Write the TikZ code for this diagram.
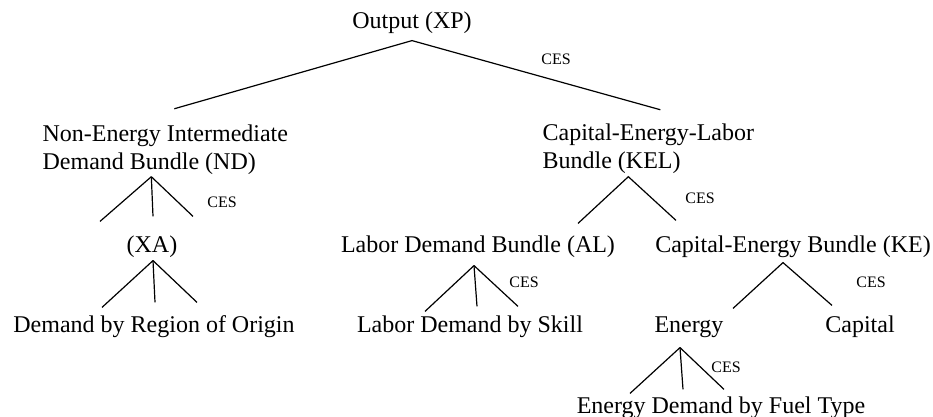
\documentclass[tikz,border=0pt]{standalone}
\usepackage{fontspec}
\setmainfont{Liberation Serif}
\tikzstyle{lbl}=[font=\fontsize{24}{28}\selectfont, inner xsep=0pt, inner ysep=6pt, text height=17pt, text depth=5pt]
\tikzstyle{blk}=[font=\fontsize{24}{28}\selectfont, inner xsep=0pt, inner ysep=6pt, align=left]
\tikzstyle{ces}=[font=\fontsize{16}{18}\selectfont, inner sep=0pt, anchor=base]

\begin{document}
\begin{tikzpicture}[x=1pt, y=-1pt, line width=1.2pt]
	\useasboundingbox (0,0) rectangle (933,417);
	% tree labels
	\node[lbl, anchor=base] (xp) at (412,29) {Output (XP)};
	\node[blk, anchor=base west] (nd) at (42,169) {Non-Energy Intermediate\\Demand Bundle (ND)};
	\node[blk, anchor=base west] (kel) at (542,168) {Capital-Energy-Labor\\Bundle (KEL)};
	\node[lbl, anchor=base] (xa) at (152,252) {(XA)};
	\node[lbl, anchor=base] (al) at (478,252) {Labor Demand Bundle (AL)};
	\node[lbl, anchor=base] (ke) at (793,252) {Capital-Energy Bundle (KE)};
	\node[lbl, anchor=base] (reg) at (154,332) {Demand by Region of Origin};
	\node[lbl, anchor=base] (skill) at (470,332) {Labor Demand by Skill};
	\node[lbl, anchor=base] (energy) at (689,332) {Energy};
	\node[lbl, anchor=base] (capital) at (860,332) {Capital};
	\node[lbl, anchor=base] (fuel) at (721,413) {Energy Demand by Fuel Type};
	% CES
	\node[ces] (ces-xp) at (556,65) {CES};
	\node[ces] (ces-nd) at (222,207) {CES};
	\node[ces] (ces-kel) at (700,203) {CES};
	\node[ces] (ces-al) at (524,287) {CES};
	\node[ces] (ces-ke) at (871,287) {CES};
	\node[ces] (ces-en) at (726,372) {CES};
	% nests
	\draw ([shift={(9,-9)}] nd.north) -- (xp.south) -- ([shift={(12,-7)}] kel.north);
	\draw ([shift={(-14,-4)}] nd.south) -- ([shift={(-52,-7)}] xa.north);
	\draw ([shift={(-14,-4)}] nd.south) -- ([shift={(1,-12)}] xa.north);
	\draw ([shift={(-14,-4)}] nd.south) -- ([shift={(41,-12)}] xa.north);
	\draw ([shift={(1,-3)}] xa.south) -- ([shift={(-52,-1)}] reg.north);
	\draw ([shift={(1,-3)}] xa.south) -- ([shift={(1,-6)}] reg.north);
	\draw ([shift={(1,-3)}] xa.south) -- ([shift={(43,-6)}] reg.north);
	\draw ([shift={(100,-5)}] al.north) -- ([shift={(-20,-3)}] kel.south) -- ([shift={(-117,-8)}] ke.north);
	\draw ([shift={(-4,2)}] al.south) -- ([shift={(-45,3)}] skill.north);
	\draw ([shift={(-4,2)}] al.south) -- ([shift={(7,-2)}] skill.north);
	\draw ([shift={(-4,2)}] al.south) -- ([shift={(48,-2)}] skill.north);
	\draw ([shift={(44,0)}] energy.north) -- ([shift={(-10,-1)}] ke.south) -- ([shift={(-28,-3)}] capital.north);
	\draw ([shift={(-9,4)}] energy.south) -- ([shift={(-91,4)}] fuel.north);
	\draw ([shift={(-9,4)}] energy.south) -- ([shift={(-38,0)}] fuel.north);
	\draw ([shift={(-9,4)}] energy.south) -- ([shift={(3,0)}] fuel.north);
\end{tikzpicture}
\end{document}
